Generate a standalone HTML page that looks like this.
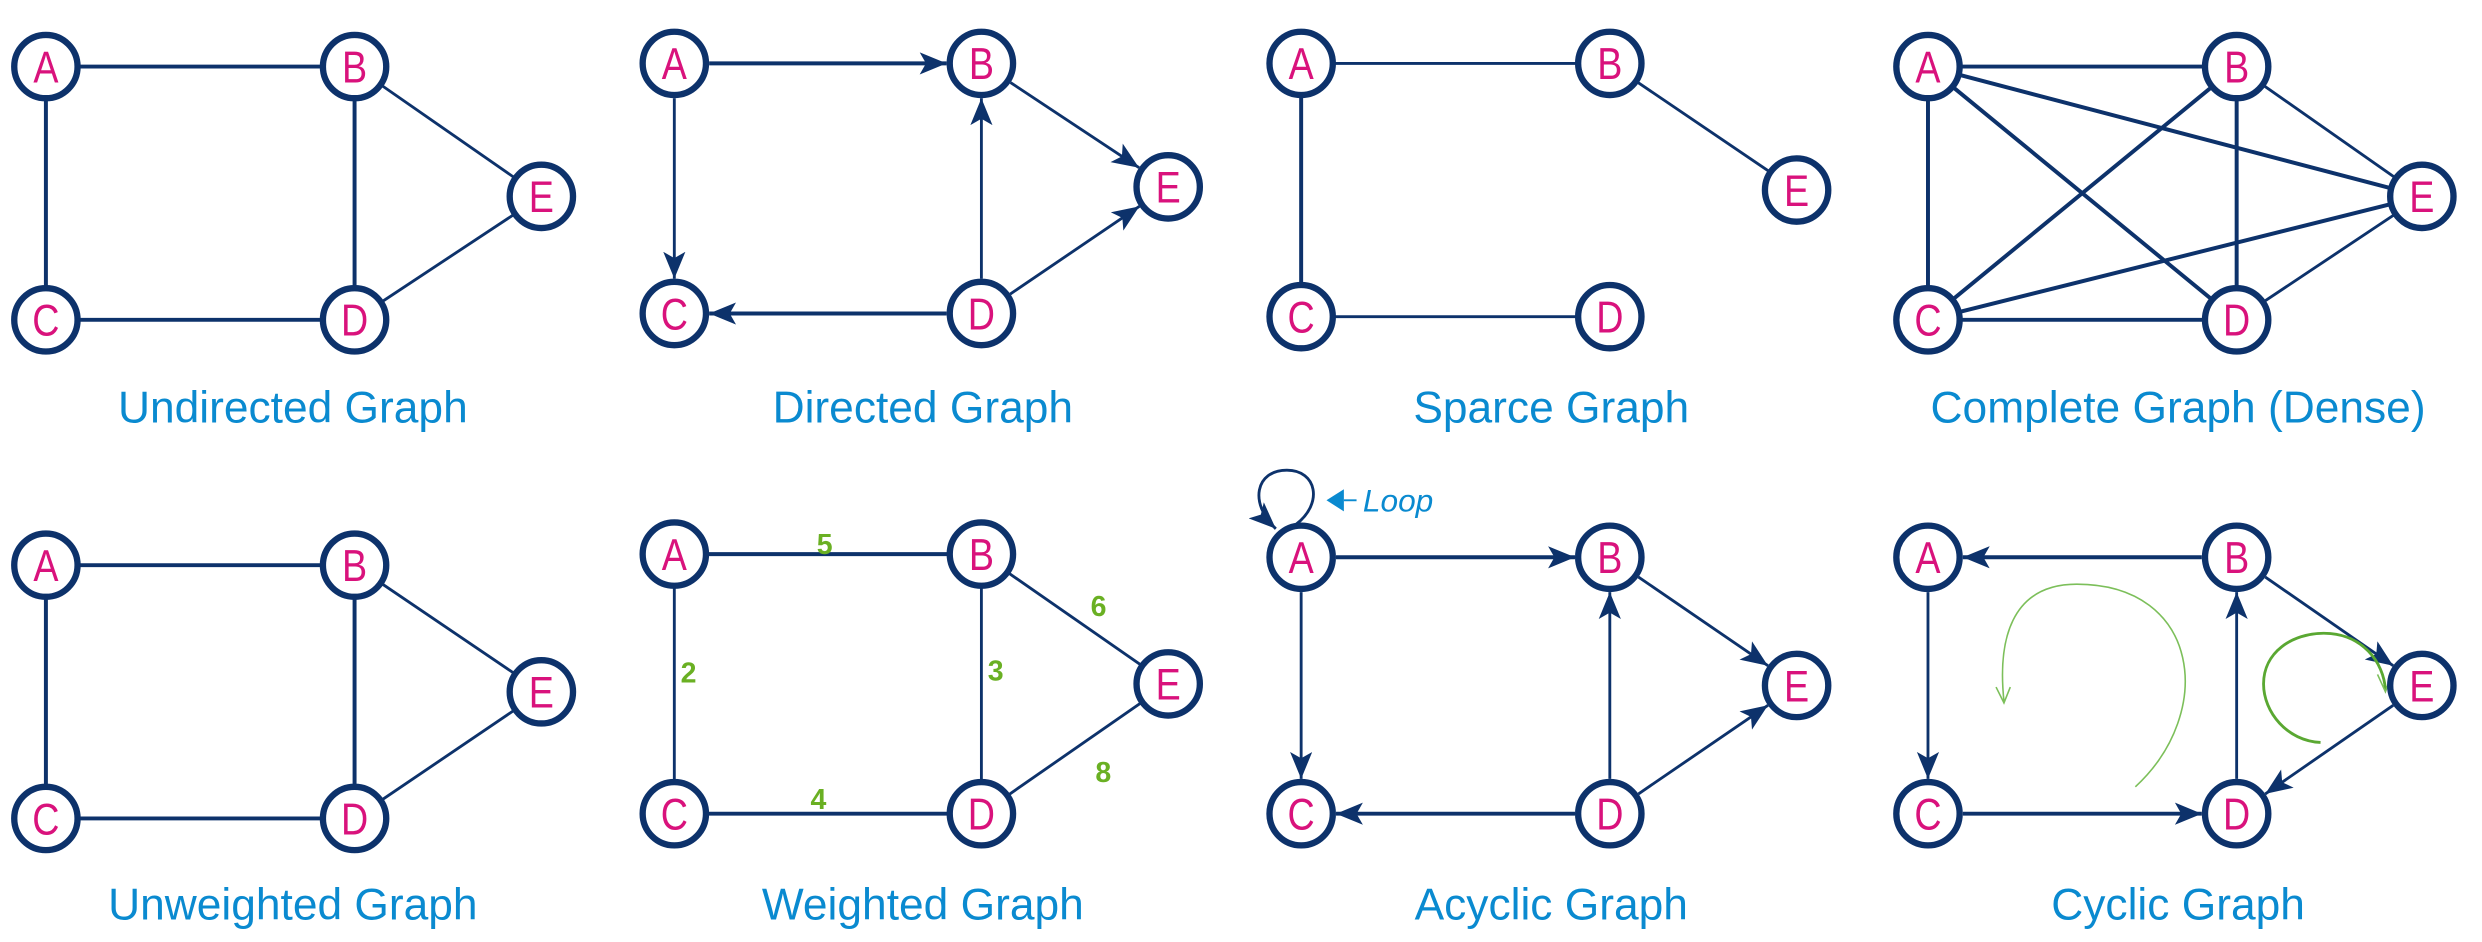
<!DOCTYPE html>
<html><head><meta charset="utf-8"><style>
html,body{margin:0;padding:0;background:#fff;}
svg{display:block;}
.n circle{fill:#fff;stroke:#0d326b;stroke-width:4;}
.n text{fill:#d9127c;font-family:"Liberation Sans",sans-serif;font-size:28px;text-anchor:middle;}
.e{stroke:#0d326b;stroke-width:2.5;fill:none;}
.d{stroke:#0d326b;stroke-width:1.8;fill:none;}
.t{fill:#0a8ad0;font-family:"Liberation Sans",sans-serif;font-size:28px;text-anchor:middle;}
.w{fill:#6ab023;font-family:"Liberation Sans",sans-serif;font-size:18px;font-weight:bold;text-anchor:middle;}
</style></head><body>
<svg width="2482" height="942" viewBox="0 0 1568 595" xmlns="http://www.w3.org/2000/svg">
<defs>
<marker id="ar" markerUnits="userSpaceOnUse" markerWidth="20" markerHeight="16" refX="17" refY="7" orient="auto">
<path d="M0,0 L17,7 L0,14 L4,7 z" fill="#0d326b"/>
</marker>
</defs>

<!-- Panel 1 Undirected -->
<g>
<line class="e" x1="29" y1="42" x2="224" y2="42"/>
<line class="e" x1="29" y1="42" x2="29" y2="202"/>
<line class="e" x1="224" y1="42" x2="224" y2="202"/>
<line class="e" x1="29" y1="202" x2="224" y2="202"/>
<line class="d" x1="224" y1="42" x2="342" y2="124"/>
<line class="d" x1="224" y1="202" x2="342" y2="124"/>
<g class="n">
<circle cx="29" cy="42" r="20"/><text transform="translate(29 52) scale(0.85 1)">A</text>
<circle cx="224" cy="42" r="20"/><text transform="translate(224 52) scale(0.85 1)">B</text>
<circle cx="29" cy="202" r="20"/><text transform="translate(29 212) scale(0.85 1)">C</text>
<circle cx="224" cy="202" r="20"/><text transform="translate(224 212) scale(0.85 1)">D</text>
<circle cx="342" cy="124" r="20"/><text transform="translate(342 134) scale(0.85 1)">E</text>
</g>
<text class="t" x="185" y="267">Undirected Graph</text>
</g>

<!-- Panel 2 Directed -->
<g>
<line class="e" x1="448" y1="40" x2="598" y2="40" marker-end="url(#ar)"/>
<line class="d" x1="426" y1="62" x2="426" y2="176" marker-end="url(#ar)"/>
<line class="d" x1="620" y1="176" x2="620" y2="62" marker-end="url(#ar)"/>
<line class="e" x1="598" y1="198" x2="448" y2="198" marker-end="url(#ar)"/>
<line class="d" x1="638.4" y1="52.1" x2="719.6" y2="105.9" marker-end="url(#ar)"/>
<line class="d" x1="638.2" y1="185.7" x2="719.8" y2="130.3" marker-end="url(#ar)"/>
<g class="n">
<circle cx="426" cy="40" r="20"/><text transform="translate(426 50) scale(0.85 1)">A</text>
<circle cx="620" cy="40" r="20"/><text transform="translate(620 50) scale(0.85 1)">B</text>
<circle cx="426" cy="198" r="20"/><text transform="translate(426 208) scale(0.85 1)">C</text>
<circle cx="620" cy="198" r="20"/><text transform="translate(620 208) scale(0.85 1)">D</text>
<circle cx="738" cy="118" r="20"/><text transform="translate(738 128) scale(0.85 1)">E</text>
</g>
<text class="t" x="583" y="267">Directed Graph</text>
</g>

<!-- Panel 3 Sparce -->
<g>
<line class="d" x1="822" y1="40" x2="1017" y2="40"/>
<line class="e" x1="822" y1="40" x2="822" y2="200"/>
<line class="d" x1="822" y1="200" x2="1017" y2="200"/>
<line class="d" x1="1017" y1="40" x2="1135" y2="120"/>
<g class="n">
<circle cx="822" cy="40" r="20"/><text transform="translate(822 50) scale(0.85 1)">A</text>
<circle cx="1017" cy="40" r="20"/><text transform="translate(1017 50) scale(0.85 1)">B</text>
<circle cx="822" cy="200" r="20"/><text transform="translate(822 210) scale(0.85 1)">C</text>
<circle cx="1017" cy="200" r="20"/><text transform="translate(1017 210) scale(0.85 1)">D</text>
<circle cx="1135" cy="120" r="20"/><text transform="translate(1135 130) scale(0.85 1)">E</text>
</g>
<text class="t" x="980" y="267">Sparce Graph</text>
</g>

<!-- Panel 4 Complete -->
<g>
<line class="e" x1="1218" y1="42" x2="1413" y2="42"/>
<line class="e" x1="1218" y1="42" x2="1218" y2="202"/>
<line class="e" x1="1218" y1="42" x2="1413" y2="202"/>
<line class="e" x1="1218" y1="42" x2="1530" y2="124"/>
<line class="e" x1="1413" y1="42" x2="1218" y2="202"/>
<line class="e" x1="1413" y1="42" x2="1413" y2="202"/>
<line class="d" x1="1413" y1="42" x2="1530" y2="124"/>
<line class="e" x1="1218" y1="202" x2="1413" y2="202"/>
<line class="e" x1="1218" y1="202" x2="1530" y2="124"/>
<line class="d" x1="1413" y1="202" x2="1530" y2="124"/>
<g class="n">
<circle cx="1218" cy="42" r="20"/><text transform="translate(1218 52) scale(0.85 1)">A</text>
<circle cx="1413" cy="42" r="20"/><text transform="translate(1413 52) scale(0.85 1)">B</text>
<circle cx="1218" cy="202" r="20"/><text transform="translate(1218 212) scale(0.85 1)">C</text>
<circle cx="1413" cy="202" r="20"/><text transform="translate(1413 212) scale(0.85 1)">D</text>
<circle cx="1530" cy="124" r="20"/><text transform="translate(1530 134) scale(0.85 1)">E</text>
</g>
<text class="t" x="1376" y="267">Complete Graph (Dense)</text>
</g>

<!-- Panel 5 Unweighted -->
<g>
<line class="e" x1="29" y1="357" x2="224" y2="357"/>
<line class="e" x1="29" y1="357" x2="29" y2="517"/>
<line class="e" x1="224" y1="357" x2="224" y2="517"/>
<line class="e" x1="29" y1="517" x2="224" y2="517"/>
<line class="d" x1="224" y1="357" x2="342" y2="437"/>
<line class="d" x1="224" y1="517" x2="342" y2="437"/>
<g class="n">
<circle cx="29" cy="357" r="20"/><text transform="translate(29 367) scale(0.85 1)">A</text>
<circle cx="224" cy="357" r="20"/><text transform="translate(224 367) scale(0.85 1)">B</text>
<circle cx="29" cy="517" r="20"/><text transform="translate(29 527) scale(0.85 1)">C</text>
<circle cx="224" cy="517" r="20"/><text transform="translate(224 527) scale(0.85 1)">D</text>
<circle cx="342" cy="437" r="20"/><text transform="translate(342 447) scale(0.85 1)">E</text>
</g>
<text class="t" x="185" y="581">Unweighted Graph</text>
</g>

<!-- Panel 6 Weighted -->
<g>
<line class="e" x1="426" y1="350" x2="620" y2="350"/>
<line class="d" x1="426" y1="350" x2="426" y2="514"/>
<line class="d" x1="620" y1="350" x2="620" y2="514"/>
<line class="e" x1="426" y1="514" x2="620" y2="514"/>
<line class="d" x1="620" y1="350" x2="738" y2="432"/>
<line class="d" x1="620" y1="514" x2="738" y2="432"/>
<g class="n">
<circle cx="426" cy="350" r="20"/><text transform="translate(426 360) scale(0.85 1)">A</text>
<circle cx="620" cy="350" r="20"/><text transform="translate(620 360) scale(0.85 1)">B</text>
<circle cx="426" cy="514" r="20"/><text transform="translate(426 524) scale(0.85 1)">C</text>
<circle cx="620" cy="514" r="20"/><text transform="translate(620 524) scale(0.85 1)">D</text>
<circle cx="738" cy="432" r="20"/><text transform="translate(738 442) scale(0.85 1)">E</text>
</g>
<text class="w" x="521" y="350">5</text>
<text class="w" x="435" y="431">2</text>
<text class="w" x="629" y="430">3</text>
<text class="w" x="694" y="389">6</text>
<text class="w" x="517" y="511">4</text>
<text class="w" x="697" y="494">8</text>
<text class="t" x="583" y="581">Weighted Graph</text>
</g>

<!-- Panel 7 Acyclic -->
<g>
<line class="e" x1="844" y1="352" x2="995" y2="352" marker-end="url(#ar)"/>
<line class="d" x1="822" y1="374" x2="822" y2="492" marker-end="url(#ar)"/>
<line class="d" x1="1017" y1="492" x2="1017" y2="374" marker-end="url(#ar)"/>
<line class="e" x1="995" y1="514" x2="844" y2="514" marker-end="url(#ar)"/>
<line class="d" x1="1035.1" y1="364.5" x2="1116.9" y2="420.5" marker-end="url(#ar)"/>
<line class="d" x1="1035.1" y1="501.5" x2="1116.9" y2="445.5" marker-end="url(#ar)"/>
<path class="d" d="M 819,331 C 836,318 832,297 813,297 C 793,297 789,318 806,334" stroke-width="1.4" marker-end="url(#ar)"/>
<path d="M838,316 L849,309 L849,323 z" fill="#0a8ad0"/>
<line x1="849" y1="316" x2="857" y2="316" stroke="#0a8ad0" stroke-width="1.2"/>
<text x="861" y="323" fill="#0a8ad0" font-family="Liberation Sans, sans-serif" font-size="20" font-style="italic">Loop</text>
<g class="n">
<circle cx="822" cy="352" r="20"/><text transform="translate(822 362) scale(0.85 1)">A</text>
<circle cx="1017" cy="352" r="20"/><text transform="translate(1017 362) scale(0.85 1)">B</text>
<circle cx="822" cy="514" r="20"/><text transform="translate(822 524) scale(0.85 1)">C</text>
<circle cx="1017" cy="514" r="20"/><text transform="translate(1017 524) scale(0.85 1)">D</text>
<circle cx="1135" cy="433" r="20"/><text transform="translate(1135 443) scale(0.85 1)">E</text>
</g>
<text class="t" x="980" y="581">Acyclic Graph</text>
</g>

<!-- Panel 8 Cyclic -->
<g>
<line class="e" x1="1391" y1="352" x2="1240" y2="352" marker-end="url(#ar)"/>
<line class="d" x1="1218" y1="374" x2="1218" y2="492" marker-end="url(#ar)"/>
<line class="e" x1="1240" y1="514" x2="1391" y2="514" marker-end="url(#ar)"/>
<line class="d" x1="1413" y1="492" x2="1413" y2="374" marker-end="url(#ar)"/>
<line class="d" x1="1431.1" y1="364.5" x2="1511.9" y2="420.5" marker-end="url(#ar)"/>
<line class="d" x1="1511.9" y1="445.5" x2="1431.1" y2="501.5" marker-end="url(#ar)"/>
<path d="M1349,497 C1400,450 1390,369 1312,369 C1270,369 1262,405 1266,443" fill="none" stroke="#7cbf5a" stroke-width="1"/>
<path d="M1261,434 L1266,444 L1270,434" fill="none" stroke="#7cbf5a" stroke-width="1"/>
<path d="M1466,469 C1445,468 1430,450 1430,432 C1430,412 1448,400 1468,400 C1492,400 1506,418 1507,436" fill="none" stroke="#5aa832" stroke-width="1.8"/>
<path d="M1502,426 L1507,437 L1511,426" fill="none" stroke="#7cbf5a" stroke-width="1"/>
<g class="n">
<circle cx="1218" cy="352" r="20"/><text transform="translate(1218 362) scale(0.85 1)">A</text>
<circle cx="1413" cy="352" r="20"/><text transform="translate(1413 362) scale(0.85 1)">B</text>
<circle cx="1218" cy="514" r="20"/><text transform="translate(1218 524) scale(0.85 1)">C</text>
<circle cx="1413" cy="514" r="20"/><text transform="translate(1413 524) scale(0.85 1)">D</text>
<circle cx="1530" cy="433" r="20"/><text transform="translate(1530 443) scale(0.85 1)">E</text>
</g>
<text class="t" x="1376" y="581">Cyclic Graph</text>
</g>
</svg>
</body></html>
